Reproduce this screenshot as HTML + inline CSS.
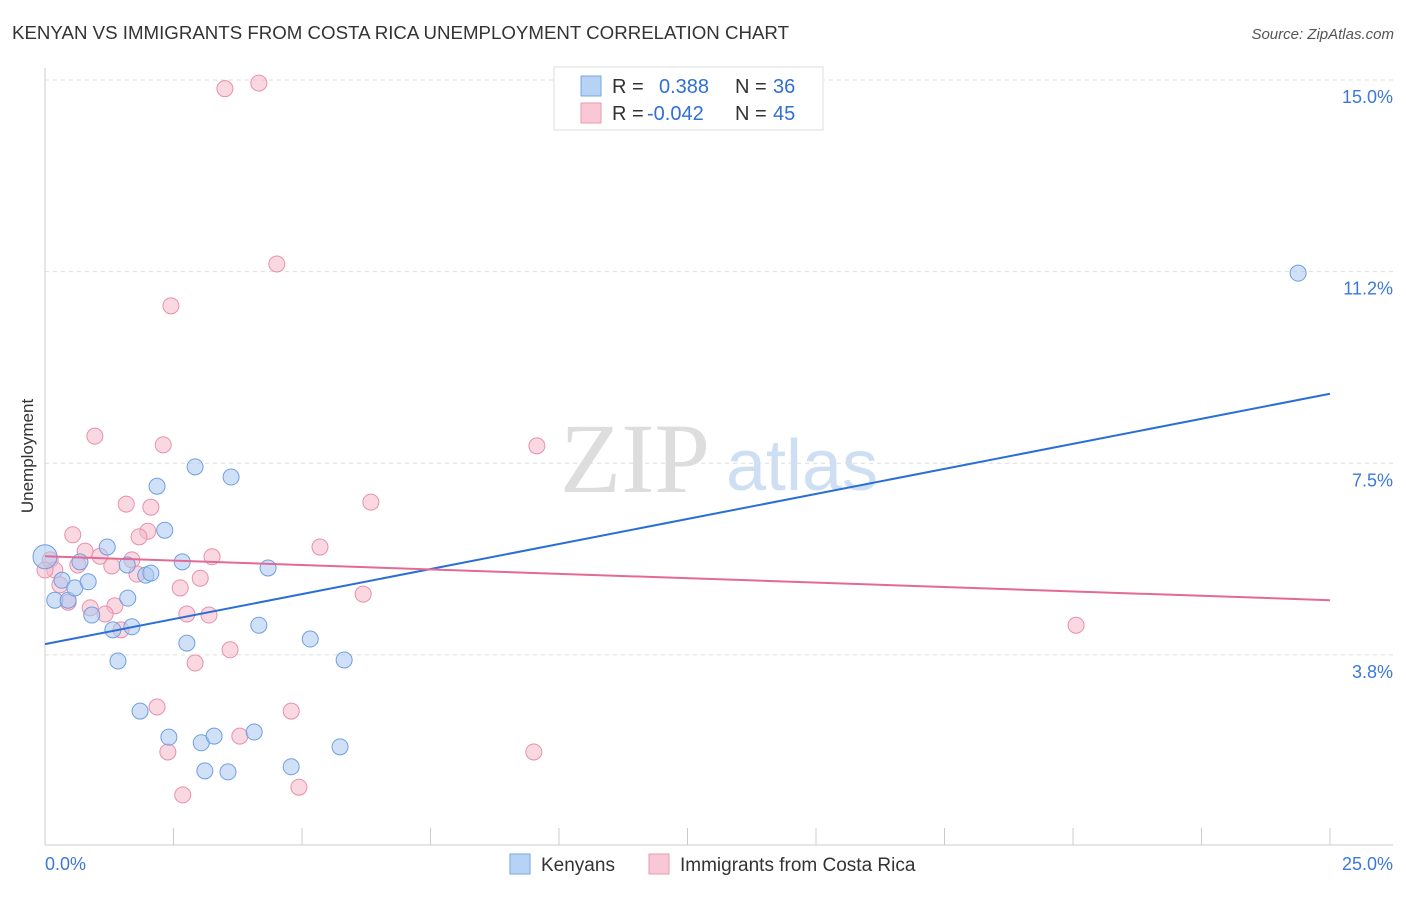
<!DOCTYPE html>
<html><head><meta charset="utf-8">
<style>
body{margin:0;background:#fff;font-family:"Liberation Sans",sans-serif;}
</style></head>
<body>
<svg id="chart" width="1406" height="892" viewBox="0 0 1406 892" xmlns="http://www.w3.org/2000/svg" font-family="Liberation Sans, sans-serif">
<text x="12" y="39" font-size="18" fill="#333" textLength="777" lengthAdjust="spacingAndGlyphs">KENYAN VS IMMIGRANTS FROM COSTA RICA UNEMPLOYMENT CORRELATION CHART</text>
<text x="1394" y="39" font-size="15" fill="#555" text-anchor="end" font-style="italic">Source: ZipAtlas.com</text>
<text transform="translate(33,456) rotate(-90)" font-size="17" fill="#333" text-anchor="middle">Unemployment</text>
<g>
<text x="635" y="492" font-size="100" fill="#ddd" style="font-family:'Liberation Serif',serif" text-anchor="middle">ZIP</text>
<text x="802" y="490" font-size="72" fill="#cfdff3" text-anchor="middle">atlas</text>
</g>
<g id="grid"></g><g id="axes"></g><g id="marks"></g>
<g>
<rect x="554" y="67" width="269" height="63" fill="#fff" stroke="#ddd"/>
<rect x="581" y="76" width="20" height="20" fill="#b6d2f5" stroke="#7aa6e3"/>
<rect x="581" y="103" width="20" height="20" fill="#f9c7d6" stroke="#e99ab3"/>
<text x="612" y="93" font-size="20" fill="#333">R = </text><text x="659" y="93" font-size="20" fill="#2f6fd6">0.388</text>
<text x="735" y="93" font-size="20" fill="#333">N = </text><text x="773" y="93" font-size="20" fill="#2f6fd6">36</text>
<text x="612" y="120" font-size="20" fill="#333">R = </text><text x="647" y="120" font-size="20" fill="#2f6fd6">-0.042</text>
<text x="735" y="120" font-size="20" fill="#333">N = </text><text x="773" y="120" font-size="20" fill="#2f6fd6">45</text>
</g>
<g>
<rect x="510" y="854" width="20" height="20" fill="#b6d2f5" stroke="#7aa6e3"/>
<text x="541" y="871" font-size="19" fill="#333">Kenyans</text>
<rect x="649" y="854" width="20" height="20" fill="#f9c7d6" stroke="#e99ab3"/>
<text x="680" y="871" font-size="19" fill="#333">Immigrants from Costa Rica</text>
</g>
</svg>
<script>
const yTicks=[3.8,7.5,11.2,15.0];
const yTickVals=[3.75,7.5,11.25,15.0];
const xTickLabels=["0.0%","25.0%"];
const kenyanX=[0.0,0.19,0.33,0.45,0.58,0.84,0.68,0.91,1.21,1.60,1.61,1.32,1.69,1.42,1.96,2.06,2.18,2.33,2.67,2.92,3.62,2.76,1.85,2.41,3.04,3.29,4.07,3.11,3.56,4.34,4.16,5.16,5.82,5.74,4.79,24.38];
const kenyanY=[5.67,4.82,5.21,4.82,5.06,5.18,5.57,4.53,5.86,5.51,4.86,4.24,4.30,3.63,5.31,5.35,7.05,6.19,5.57,7.43,7.23,3.98,2.65,2.14,2.03,2.16,2.24,1.48,1.46,5.45,4.33,4.06,3.65,1.95,1.56,11.22];
const costaX=[4.16,3.50,4.51,2.45,0.97,2.30,9.57,6.34,1.58,2.06,2.00,0.54,1.83,5.35,0.78,1.07,1.69,3.25,1.30,1.79,3.02,2.63,6.19,1.36,0.88,1.17,2.76,3.19,1.48,3.60,2.92,2.18,4.79,3.79,2.39,9.51,2.68,4.94,20.06,0.10,0.19,0.29,0.0,0.64,0.45];
const costaY=[14.94,14.83,11.40,10.58,8.03,7.86,7.84,6.74,6.70,6.64,6.17,6.10,6.06,5.86,5.78,5.68,5.61,5.67,5.49,5.33,5.25,5.06,4.94,4.71,4.67,4.55,4.55,4.53,4.24,3.85,3.59,2.73,2.65,2.16,1.85,1.85,1.01,1.16,4.33,5.61,5.41,5.12,5.41,5.51,4.78];
const kenyanTrend=[3.96,8.86];
const costaTrend=[5.68,4.82];
const NS="http://www.w3.org/2000/svg";
const xs=v=>45+v/25*1285;
const ys=v=>80+(15-v)*51.1;
function mk(tag,attrs,parent){const e=document.createElementNS(NS,tag);for(const k in attrs)e.setAttribute(k,attrs[k]);parent.appendChild(e);return e;}
const grid=document.getElementById('grid'),axes=document.getElementById('axes'),marks=document.getElementById('marks');
yTickVals.forEach((v,i)=>{
 const l=mk('line',{x1:45,x2:1393,y1:ys(v),y2:ys(v),stroke:'#ddd','stroke-dasharray':'4,4'},grid);
 
 
 const t=mk('text',{x:1393,y:ys(v)+23,'font-size':18,fill:'#3b78d8','text-anchor':'end'},axes);
 t.textContent=yTicks[i].toFixed(1)+'%';
 
 
});
const ya=mk('line',{x1:45,x2:45,y1:68,y2:845,stroke:'#ccc'},axes);


const xa=mk('line',{x1:45,x2:1393,y1:845,y2:845,stroke:'#ccc'},axes);


for(let i=0;i<=10;i++){
 const tk=mk('line',{x1:xs(i*2.5),x2:xs(i*2.5),y1:828,y2:845,stroke:'#ccc'},axes);
 
 
}
const t0=mk('text',{x:45,y:870,'font-size':18,fill:'#3b78d8'},axes);t0.textContent=xTickLabels[0];


const t1=mk('text',{x:1393,y:870,'font-size':18,fill:'#3b78d8','text-anchor':'end'},axes);t1.textContent=xTickLabels[1];


function pts(X,Y,fill,stroke,name){X.forEach((x,i)=>{
 const r=(x===0&&i===0)?12:8;
 const c=mk('circle',{cx:xs(x),cy:ys(Y[i]),r:r,fill:fill,'fill-opacity':0.55,stroke:stroke,'stroke-width':1},marks);
 
 
});}
pts(costaX,costaY,'#f5b8cb','#e890ac','costa-rica-point');
pts(kenyanX,kenyanY,'#a9c8f0','#6f9fe0','kenyan-point');
const bl=mk('line',{x1:xs(0),y1:ys(kenyanTrend[0]),x2:xs(25),y2:ys(kenyanTrend[1]),stroke:'#2a6fd6','stroke-width':2},marks);


const pl=mk('line',{x1:xs(0),y1:ys(costaTrend[0]),x2:xs(25),y2:ys(costaTrend[1]),stroke:'#e36a95','stroke-width':2},marks);


</script>
</body></html>
